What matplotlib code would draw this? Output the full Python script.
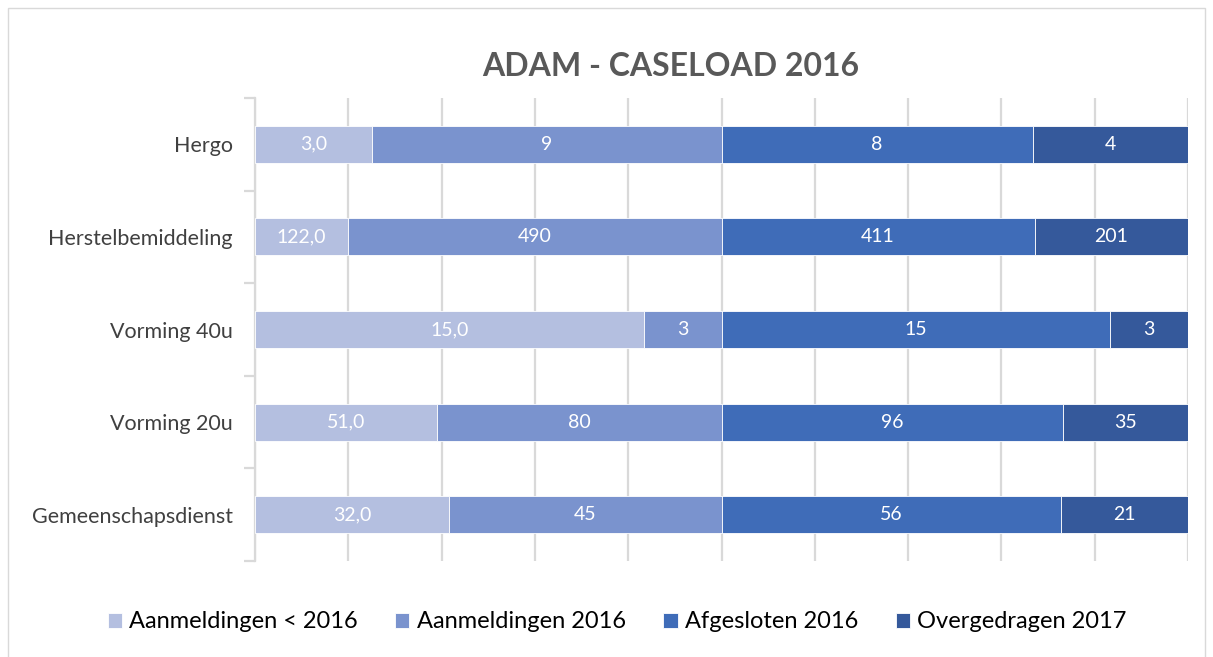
import matplotlib
matplotlib.use("Agg")
import matplotlib.pyplot as plt
from matplotlib.patches import Rectangle
import numpy as np

categories = ["Hergo", "Herstelbemiddeling", "Vorming 40u", "Vorming 20u", "Gemeenschapsdienst"]
series_names = ["Aanmeldingen < 2016", "Aanmeldingen 2016", "Afgesloten 2016", "Overgedragen 2017"]
aanm_voor_2016 = [3.0, 122.0, 15.0, 51.0, 32.0]
aanm_2016 = [9, 490, 3, 80, 45]
afgesloten_2016 = [8, 411, 15, 96, 56]
overgedragen_2017 = [4, 201, 3, 35, 21]
colors = ["#B4BFE0", "#7A93CE", "#3F6CB8", "#35599B"]
title = "ADAM - CASELOAD 2016"

plt.rcParams['font.family'] = ['Lato', 'DejaVu Sans']

fig = plt.figure(figsize=(12.13, 6.57), dpi=100)
ax = fig.add_axes([255/1213, 1-561/657, (1188-255)/1213, (561-98)/657])

data = np.array([aanm_voor_2016, aanm_2016, afgesloten_2016, overgedragen_2017], dtype=float)
totals = data.sum(axis=0)
frac = data / totals
ypos = np.arange(len(categories))[::-1]

left = np.zeros(len(categories))
for i, name in enumerate(series_names):
    bars = ax.barh(ypos, frac[i], left=left, height=0.4, color=colors[i],
                   edgecolor="white", linewidth=0.6, label=name, zorder=3)
    if i == 0:
        labels = [f"{v:.1f}".replace(".", ",") for v in data[i]]
    else:
        labels = [f"{int(v)}" for v in data[i]]
    ax.bar_label(bars, labels=labels, label_type="center", color="white", fontsize=14)
    left += frac[i]

ax.set_xlim(0, 1)
ax.set_ylim(-0.5, len(categories) - 0.5)
ax.set_xticks(np.linspace(0, 1, 11))
ax.tick_params(axis="x", length=0, labelbottom=False)
ax.grid(axis="x", color="#D9D9D9", linewidth=1.6, zorder=0)

ax.set_yticks(np.arange(-0.5, len(categories), 1.0))
ax.set_yticklabels([])
ax.tick_params(axis="y", which="major", length=8, color="#D9D9D9", width=1.6)
ax.set_yticks(ypos, minor=True)
ax.set_yticklabels(categories, minor=True, fontsize=15.5, color="#404040")
ax.tick_params(axis="y", which="minor", length=0, pad=16)

for s in ["top", "right", "bottom"]:
    ax.spines[s].set_visible(False)
ax.spines["left"].set_color("#D9D9D9")
ax.spines["left"].set_linewidth(1.6)

fig.text(671/1213, 1-66/657, title, ha="center", va="center", fontsize=23,
         fontweight="bold", color="#595959")

fig.legend(loc="center", bbox_to_anchor=(617/1213, 1-622/657), ncol=4, frameon=False,
           fontsize=17, handlelength=0.6, handleheight=0.6, handletextpad=0.3,
           columnspacing=1.6, labelcolor="#000000")

fig.patches.append(Rectangle((8/1213, -0.01), (1205-8)/1213, 1.0 - 8/657 + 0.01,
                             transform=fig.transFigure, fill=False,
                             edgecolor="#D9D9D9", linewidth=1))

fig.savefig("out.png", dpi=100)
